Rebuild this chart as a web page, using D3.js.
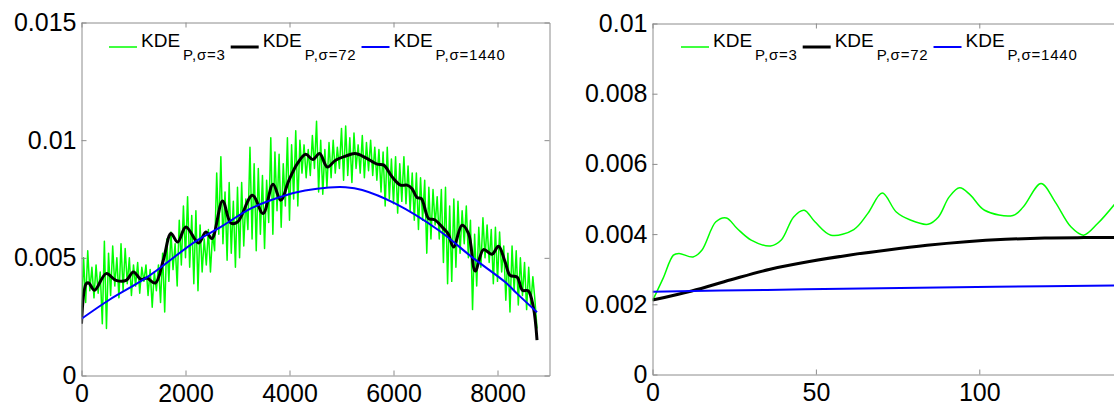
<!DOCTYPE html>
<html>
<head>
<meta charset="utf-8">
<title>KDE comparison</title>
<script src="https://cdn.jsdelivr.net/npm/d3@7"></script>
<style>
  body { margin: 0; background: #fff; }
  svg text { font-family: "Liberation Sans", Arial, Helvetica, sans-serif; }
</style>
</head>
<body>
<div id="chart"></div>
<script>

// ---------- data: left panel (whole year, hours) ----------
var leftXTicks = [0, 2000, 4000, 6000, 8000];
var leftYTicks = [0, 0.005, 0.01, 0.015];

// KDE sigma=3, sampled every 40 h from 0 to 8760
var greenLeftVals = [
  .0025, .0050, .0031, .0053, .0036, .0046, .0033, .0047, .0035, .0044,
  .0022, .0057, .0020, .0052, .0034, .0055, .0038, .0050, .0033, .0056,
  .0036, .0054, .0039, .0050, .0034, .0047, .0038, .0048, .0035, .0046,
  .0040, .0047, .0034, .0045, .0029, .0044, .0036, .0047, .0031, .0052,
  .0027, .0058, .0040, .0061, .0045, .0056, .0038, .0066, .0047, .0072,
  .0050, .0076, .0046, .0068, .0039, .0070, .0036, .0064, .0044, .0058,
  .0047, .0062, .0044, .0060, .0053, .0086, .0060, .0093, .0056, .0078,
  .0049, .0082, .0052, .0074, .0046, .0080, .0050, .0082, .0055, .0075,
  .0062, .0097, .0058, .0090, .0053, .0088, .0060, .0085, .0054, .0083,
  .0065, .0101, .0060, .0095, .0070, .0094, .0063, .0090, .0072, .0101,
  .0066, .0098, .0075, .0104, .0072, .0100, .0086, .0098, .0084, .0096,
  .0085, .0102, .0088, .0108, .0078, .0100, .0077, .0096, .0080, .0099,
  .0084, .0100, .0086, .0097, .0088, .0105, .0083, .0106, .0085, .0101,
  .0082, .0103, .0088, .0098, .0086, .0102, .0084, .0099, .0087, .0100,
  .0085, .0097, .0083, .0096, .0078, .0095, .0072, .0097, .0075, .0092,
  .0073, .0093, .0069, .0090, .0074, .0093, .0073, .0089, .0070, .0086,
  .0066, .0086, .0062, .0084, .0066, .0083, .0052, .0080, .0058, .0079,
  .0064, .0076, .0058, .0079, .0048, .0080, .0039, .0072, .0040, .0075,
  .0046, .0074, .0052, .0070, .0056, .0072, .0050, .0066, .0028, .0060,
  .0038, .0063, .0046, .0067, .0050, .0064, .0048, .0062, .0039, .0063,
  .0040, .0061, .0044, .0055, .0032, .0052, .0027, .0055, .0036, .0053,
  .0030, .0050, .0034, .0048, .0028, .0046, .0030, .0042, .0032, .0020
];
var greenLeftHours = d3.range(0, 8761, 40);

// KDE sigma=72
var blackLeftHours = [0, 90, 140, 250, 474, 666, 858, 998, 1145, 1254, 1420, 1573, 1720, 1849,
  2008, 2252, 2392, 2507, 2712, 2872, 3000, 3288, 3491, 3683, 3831, 3990, 4151, 4310, 4450,
  4579, 4727, 4886, 5078, 5256, 5461, 5686, 5813, 5974, 6133, 6261, 6357, 6453, 6536, 6676,
  6791, 6964, 7048, 7155, 7316, 7443, 7571, 7731, 7892, 8019, 8147, 8243, 8377, 8480, 8590,
  8690, 8760];
var blackLeftVals = [.0022, .0039, .00393, .00362, .00433, .00404, .00404, .0044, .00408, .00414,
  .00393, .0049, .00603, .00567, .00631, .00563, .0061, .00582, .00742, .00648, .00652, .00766,
  .00688, .00813, .00745, .0083, .009, .0094, .00918, .00943, .00886, .00915, .00932, .00943,
  .00926, .00898, .00894, .00844, .00809, .00809, .00794, .00756, .00752, .00667, .00662, .00624,
  .00603, .00546, .00638, .00603, .00444, .00535, .00515, .00549, .00482, .00425, .00418, .00362,
  .0036, .0029, .0015];

// KDE sigma=1440
var blueLeftHours = [0, 537, 1263, 2195, 2648, 3288, 3928, 4300, 4757, 5078, 5398, 6037, 6868, 7508, 8147, 8377, 8760];
var blueLeftVals = [.00241, .00322, .00418, .0057, .00627, .00713, .00766, .00786, .00799, .008,
  .00788, .0073, .00617, .00503, .00397, .00348, .00269];

// ---------- data: right panel (first week, hours) ----------
var rightXTicks = [0, 50, 100];
var rightYTicks = [0, 0.002, 0.004, 0.006, 0.008, 0.01];

var greenRightHours = [0, 3.2, 6.4, 8.1, 12.4, 15.1, 19.4, 22.6, 25.9, 30.2, 36.1, 39.4, 43.2, 46.4,
  49.7, 54.6, 61.6, 65.9, 70.3, 74.6, 78.9, 84.3, 87.5, 90.8, 94, 97.3, 101.6, 110.3, 113.5,
  118.9, 123.2, 128.1, 131.9, 136.2, 141.4];
var greenRightVals = [.0021, .00273, .0034, .00345, .00335, .00354, .00435, .00446, .00416, .00383,
  .00366, .00383, .00449, .00468, .00435, .00397, .00413, .00459, .00517, .00463, .0044, .00428,
  .00449, .00506, .00532, .00511, .00468, .00453, .00478, .00544, .00492, .0042, .00397, .0043,
  .00485];

var blackRightHours = [0, 12, 24, 36, 48, 60, 72, 84, 96, 108, 120, 132, 142];
var blackRightVals = [.00212, .00238, .0027, .003, .00322, .0034, .00355, .00368, .00378, .00385,
  .00389, .0039, .0039];

var blueRightHours = [0, 35, 70, 105, 142];
var blueRightVals = [.00236, .00241, .00246, .0025, .00254];

var seriesNames = ["3", "72", "1440"];
var seriesColors = ["#00ff00", "#000000", "#0000ff"];
var seriesWidths = [1.5, 3, 2];

// ---------- drawing ----------
var svg = d3.select("#chart")
  .append("svg")
  .attr("width", 1114)
  .attr("height", 407);

function zip(xs, ys) {
  return xs.map(function(x, i) { return [x, ys[i]]; });
}

function drawPanel(p) {
  var x = d3.scaleLinear().domain(p.xDomain).range([p.left, p.right]);
  var y = d3.scaleLinear().domain(p.yDomain).range([p.bottom, p.top]);
  var g = svg.append("g");

  var clipId = "clip" + p.id;
  g.append("clipPath").attr("id", clipId)
    .append("rect")
    .attr("x", p.left).attr("y", p.top)
    .attr("width", p.right - p.left).attr("height", p.bottom - p.top);

  var line = d3.line()
    .x(function(d) { return x(d[0]); })
    .y(function(d) { return y(d[1]); });

  p.series.forEach(function(s, i) {
    line.curve(s.smooth ? d3.curveCatmullRom.alpha(0.5) : d3.curveLinear);
    g.append("path")
      .datum(s.data)
      .attr("clip-path", "url(#" + clipId + ")")
      .attr("fill", "none")
      .attr("stroke", seriesColors[i])
      .attr("stroke-width", seriesWidths[i])
      .attr("stroke-linejoin", "round")
      .attr("d", line);
  });

  var fmt = function(d) { return String(+d); };
  var blank = function() { return ""; };

  var axes = [
    { ax: d3.axisBottom(x).tickValues(p.xTicks).tickFormat(fmt).tickPadding(9), t: "translate(0," + p.bottom + ")" },
    { ax: d3.axisTop(x).tickValues(p.xTicks).tickFormat(blank), t: "translate(0," + p.top + ")" },
    { ax: d3.axisLeft(y).tickValues(p.yTicks).tickFormat(fmt).tickPadding(5), t: "translate(" + p.left + ",0)" },
    { ax: d3.axisRight(y).tickValues(p.yTicks).tickFormat(blank), t: "translate(" + p.right + ",0)" }
  ];
  axes.forEach(function(a) {
    var ag = g.append("g")
      .attr("transform", a.t)
      .call(a.ax.tickSizeInner(-5).tickSizeOuter(0));
    ag.select(".domain").attr("stroke", "#8c8c8c");
    ag.selectAll(".tick line").attr("stroke", "#8c8c8c");
    ag.selectAll(".tick text")
      .attr("fill", "#000")
      .style("font-size", "25px");
  });

  // legend
  var lx = p.legendX, ly = 47;
  var leg = g.append("g");
  seriesNames.forEach(function(name, i) {
    leg.append("line")
      .attr("x1", lx).attr("x2", lx + 28)
      .attr("y1", ly).attr("y2", ly)
      .attr("stroke", seriesColors[i])
      .attr("stroke-width", seriesWidths[i]);
    lx += 32;
    var t = leg.append("text")
      .attr("x", lx).attr("y", ly)
      .style("font-size", "19px")
      .attr("fill", "#000");
    t.append("tspan").text("KDE");
    t.append("tspan")
      .attr("dx", 3).attr("dy", 13)
      .style("font-size", "15px")
      .style("letter-spacing", "0.8px")
      .text("P,\u03c3=" + name);
    lx += t.node().getComputedTextLength() + 8;
  });
}

drawPanel({
  id: "L",
  left: 81.5, right: 549.5, top: 22.5, bottom: 375.5,
  xDomain: [0, 9000], yDomain: [0, 0.015],
  xTicks: leftXTicks, yTicks: leftYTicks,
  legendX: 109,
  series: [
    { data: zip(greenLeftHours, greenLeftVals), smooth: false },
    { data: zip(blackLeftHours, blackLeftVals), smooth: true },
    { data: zip(blueLeftHours, blueLeftVals), smooth: true }
  ]
});

drawPanel({
  id: "R",
  left: 652.5, right: 1201.5, top: 23.5, bottom: 374.5,
  xDomain: [0, 168], yDomain: [0, 0.01],
  xTicks: rightXTicks, yTicks: rightYTicks,
  legendX: 681,
  series: [
    { data: zip(greenRightHours, greenRightVals), smooth: true },
    { data: zip(blackRightHours, blackRightVals), smooth: true },
    { data: zip(blueRightHours, blueRightVals), smooth: true }
  ]
});

</script>
</body>
</html>
